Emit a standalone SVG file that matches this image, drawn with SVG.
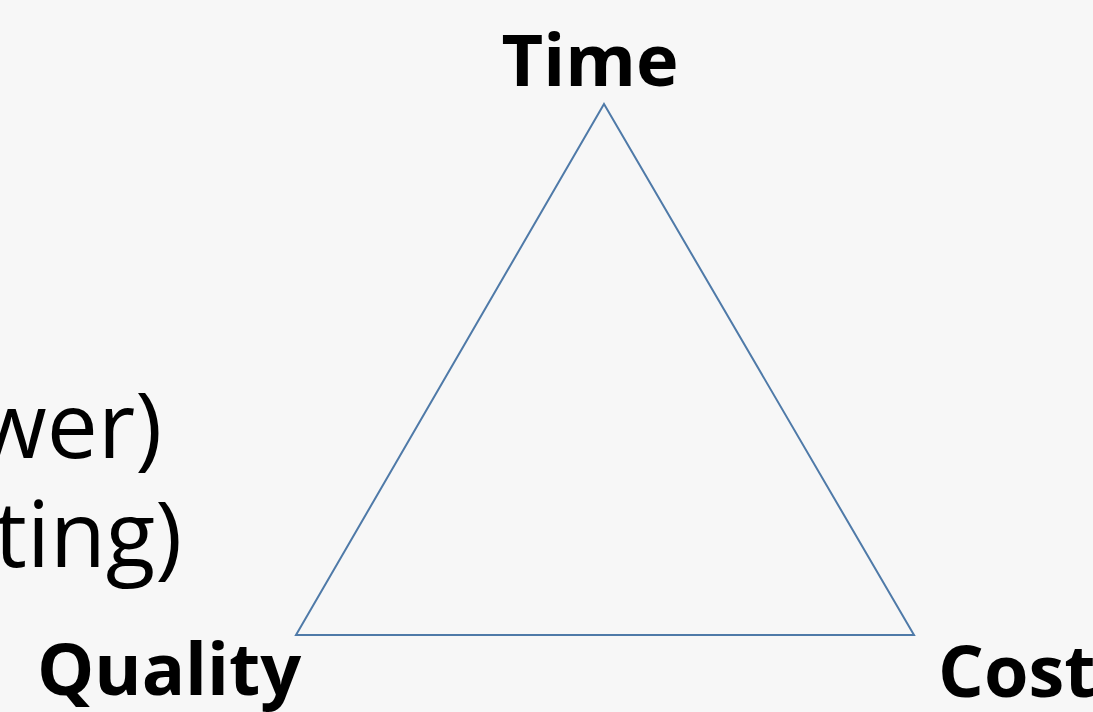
<svg xmlns="http://www.w3.org/2000/svg" width="1093" height="712" viewBox="0 0 1093 712">
<style>
.lbl{font-family:"Open Sans","Noto Sans","Liberation Sans",sans-serif;font-weight:bold;font-size:72px;fill:#000}
.txt{font-family:"Open Sans","Noto Sans","Liberation Sans",sans-serif;font-size:91px;fill:#000}
.tri{fill:none;stroke:#4f7aa8;stroke-width:2}
</style>
<rect width="1093" height="712" fill="#f7f7f7"/>
<g id="body-text">
<text class="txt" x="162" y="458" text-anchor="end">wer)</text>
<text class="txt" x="182" y="567" text-anchor="end">ting)</text>
</g>
<g id="connectors">
<polygon class="tri" points="604,104 914,635 296,635"/>
</g>
<g id="time"><text class="lbl" x="590" y="86" text-anchor="middle">Time</text></g>
<g id="quality"><text class="lbl" x="37" y="695">Quality</text></g>
<g id="cost"><text class="lbl" x="938" y="697">Cost</text></g>
</svg>
